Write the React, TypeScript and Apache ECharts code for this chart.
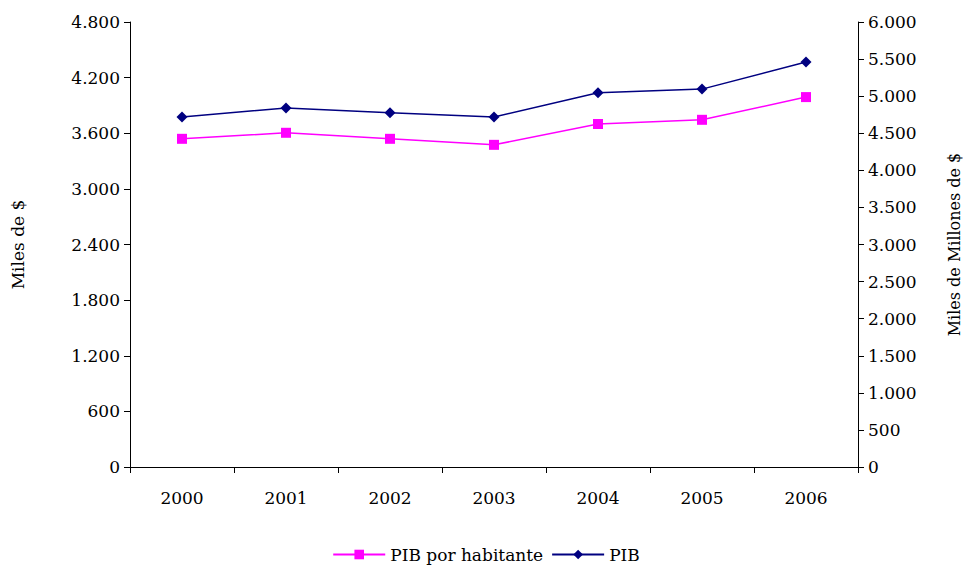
import { useEffect, useRef } from 'react';
import * as echarts from 'echarts';

const years = ['2000', '2001', '2002', '2003', '2004', '2005', '2006'];
const pibHabitante = [3540, 3605, 3540, 3475, 3700, 3745, 3990];
const pib = [4720, 4840, 4775, 4720, 5045, 5095, 5460];

const fmt = (v: number) => String(v).replace(/\B(?=(\d{3})+(?!\d))/g, '.');
const font = 'DejaVu Serif';

export default function App() {
  const ref = useRef<HTMLDivElement>(null);

  useEffect(() => {
    if (!ref.current) return;
    const chart = echarts.init(ref.current, undefined, { renderer: 'svg' });
    const axisBase = {
      type: 'value' as const,
      min: 0,
      splitLine: { show: false },
      axisLine: { show: true, lineStyle: { color: '#000' } },
      axisTick: { show: true, length: 6, lineStyle: { color: '#000' } },
      axisLabel: { color: '#000', fontFamily: font, fontSize: 17, formatter: fmt, margin: 10 },
      nameLocation: 'middle' as const,
      nameTextStyle: { color: '#000', fontFamily: font, fontSize: 17 },
    };
    chart.setOption({
      animation: false,
      textStyle: { fontFamily: font },
      grid: { left: 122, right: 106, top: 14, bottom: 103, outerBoundsMode: 'none', containLabel: false },
      legend: {
        bottom: 2,
        left: 'center',
        itemWidth: 52,
        itemHeight: 12,
        itemGap: 8,
        textStyle: { color: '#000', fontFamily: font, fontSize: 17 },
        data: ['PIB por habitante', 'PIB'],
      },
      xAxis: {
        type: 'category',
        data: years,
        axisLine: { lineStyle: { color: '#000' } },
        axisTick: { show: true, length: 6, lineStyle: { color: '#000' } },
        axisLabel: { color: '#000', fontFamily: font, fontSize: 17, margin: 22 },
      },
      yAxis: [
        { ...axisBase, max: 4800, interval: 600, name: 'Miles de $', nameGap: 104 },
        {
          ...axisBase,
          max: 6000,
          interval: 500,
          position: 'right',
          name: 'Miles de Millones de $',
          nameGap: 88,
          nameTextStyle: { color: '#000', fontFamily: font, fontSize: 16 },
        },
      ],
      series: [
        {
          name: 'PIB por habitante',
          type: 'line',
          data: pibHabitante,
          yAxisIndex: 0,
          symbol: 'rect',
          symbolSize: 10,
          lineStyle: { color: '#ff00ff', width: 1.5 },
          itemStyle: { color: '#ff00ff' },
        },
        {
          name: 'PIB',
          type: 'line',
          data: pib,
          yAxisIndex: 1,
          symbol: 'diamond',
          symbolSize: 11,
          lineStyle: { color: '#000080', width: 1.5 },
          itemStyle: { color: '#000080' },
        },
      ],
    });
    return () => chart.dispose();
  }, []);

  return <div ref={ref} style={{ width: 956, height: 562 }} />;
}
